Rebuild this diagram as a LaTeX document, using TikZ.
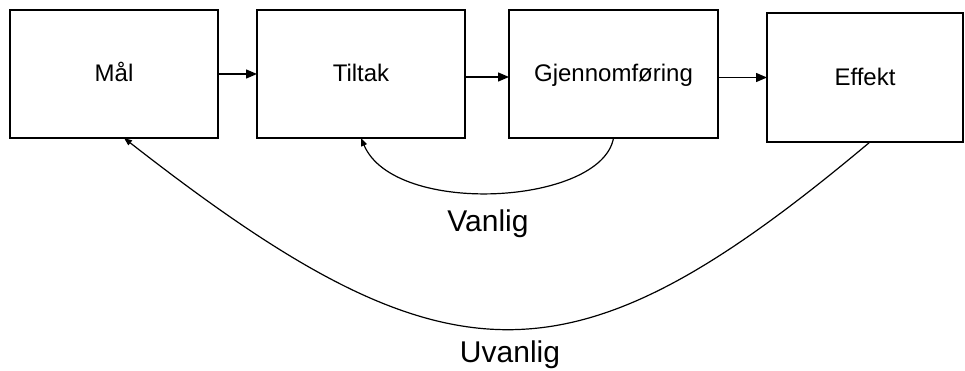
\documentclass[tikz,border=0pt]{standalone}
\usepackage{fontspec}
\setsansfont{Liberation Sans}
\usepackage{tikz}
\usetikzlibrary{arrows.meta,positioning}

\begin{document}
\begin{tikzpicture}[
  x=1pt, y=1pt,
  font=\sffamily,
  stage/.style={draw=black, line width=2pt, inner sep=0pt, outer sep=0pt,
                minimum width=208pt, minimum height=128pt,
                text height=20pt, text depth=4pt,
                font=\sffamily\fontsize{24}{28}\selectfont},
  flow/.style={line width=1.4pt, -{Triangle[length=11pt,width=9pt]}},
  loop/.style={line width=1.2pt, -{Triangle[length=8pt,width=6pt]}},
  tag/.style={anchor=base, inner sep=0pt,
              font=\sffamily\fontsize{30}{36}\selectfont}
]
  \useasboundingbox (0,0) rectangle (965,371);

  \node[stage] (mal) at (114,297) {Mål};
  \node[stage, right=39pt of mal] (tiltak) {Tiltak};
  \node[stage, right=44pt of tiltak, minimum width=209pt] (gjen) {Gjennomføring};
  \node[stage, right=49pt of gjen, yshift=-3.5pt, minimum width=196pt,
        minimum height=129pt] (effekt) {Effekt};

  \draw[flow] (mal) -- (tiltak);
  \draw[flow] ([yshift=-3pt]tiltak.east) -- ([yshift=-3pt]tiltak.east -| gjen.west);
  \draw[flow] (gjen.east |- effekt.west) -- (effekt.west);

  % back loops under the row
  \draw[loop] (gjen.south) to[out=260, in=-67, out distance=68pt, in distance=86pt] (tiltak.south);
  \draw[loop] ([xshift=5pt]effekt.south) to[out=220, in=-38, out distance=389pt, in distance=413pt] ([xshift=10pt]mal.south);

  \node[tag] (vanlig) at (488,139) {Vanlig};
  \node[tag] (uvanlig) at (510,8) {Uvanlig};
\end{tikzpicture}
\end{document}
